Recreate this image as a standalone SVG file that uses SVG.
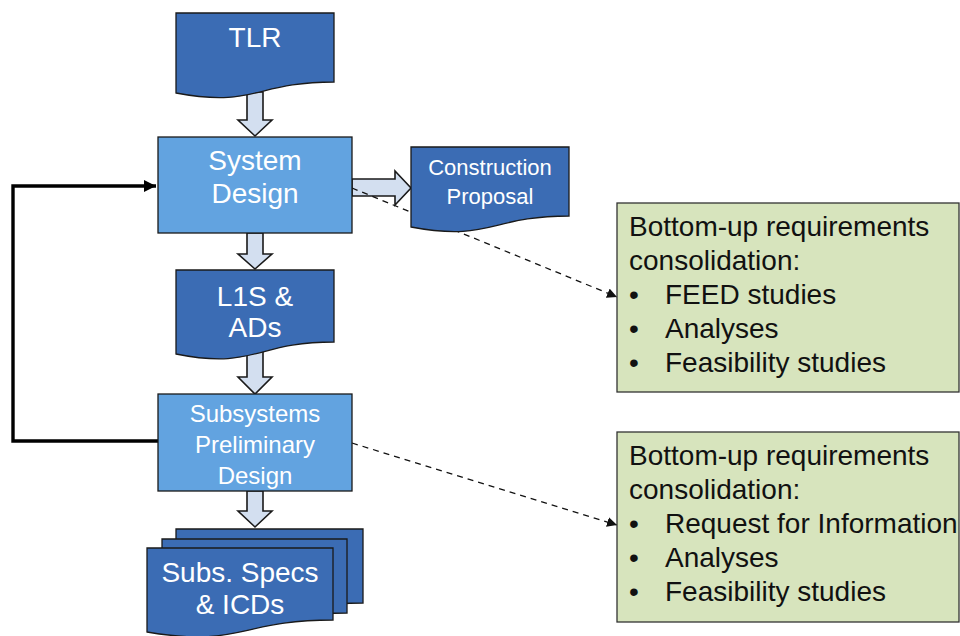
<svg xmlns="http://www.w3.org/2000/svg" width="960" height="636" viewBox="0 0 960 636">
  <style>
    .doc { fill: #3b6cb4; stroke: #1a1a1a; stroke-width: 1.3; }
    .proc { fill: #62a3e0; stroke: #1a1a1a; stroke-width: 1.3; }
    .note { fill: #d7e4bd; stroke: #333333; stroke-width: 1.3; }
    .blk { fill: #d3dff0; stroke: #1a1a1a; stroke-width: 1.6; stroke-linejoin: miter; }
    .wt { font-family: "Liberation Sans", Arial, sans-serif; fill: #ffffff; text-anchor: middle; }
    .bt { font-family: "Liberation Sans", Arial, sans-serif; fill: #111111; font-size: 28px; }
    .dash { fill: none; stroke: #111111; stroke-width: 1.3; stroke-dasharray: 6 5; }
    .loop { fill: none; stroke: #000000; stroke-width: 3.4; }
  </style>
  <defs>
    <marker id="tri" viewBox="0 0 10 10" refX="10" refY="5" markerWidth="10" markerHeight="10" markerUnits="userSpaceOnUse" orient="auto">
      <path d="M0,0 L10,5 L0,10 Z" fill="#111111"/>
    </marker>
    <marker id="triBig" viewBox="0 0 10 10" refX="10" refY="5" markerWidth="12" markerHeight="12" markerUnits="userSpaceOnUse" orient="auto">
      <path d="M0,0 L10,5 L0,10 Z" fill="#000000"/>
    </marker>
  </defs>

  <rect width="960" height="636" fill="#ffffff"/>

  <!-- connectors -->
  <g id="connectors">
    <!-- block arrows between steps -->
    <path class="blk" d="M247,92 H263 V120 H272 L255,136 L238,120 H247 Z"/>
    <path class="blk" d="M247,233 H263 V254 H272 L255,269 L238,254 H247 Z"/>
    <path class="blk" d="M247,345 H263 V377 H272 L255,394 L238,377 H247 Z"/>
    <path class="blk" d="M247,491 H263 V511 H272 L255,527 L238,511 H247 Z"/>
    <path class="blk" d="M352,179 H395 V171 L411,188 L395,205 V196 H352 Z"/>
    <!-- feedback loop -->
    <path class="loop" d="M158,441 H13 V186 H156" marker-end="url(#triBig)"/>
    <!-- dashed links to consolidation notes -->
    <path class="dash" d="M352,188 L617,297" marker-end="url(#tri)"/>
    <path class="dash" d="M352,443 L617,525" marker-end="url(#tri)"/>
  </g>

  <g id="tlr">
    <path class="doc" d="M176,13 H334 V82 C255,82 255,108 176,93 Z"/>
    <text class="wt" x="255" y="47" font-size="28">TLR</text>
  </g>

  <g id="system-design">
    <rect class="proc" x="158" y="137" width="194" height="96"/>
    <text class="wt" x="255" y="170" font-size="28">System</text>
    <text class="wt" x="255" y="203" font-size="28">Design</text>
  </g>

  <g id="construction-proposal">
    <path class="doc" d="M411,147 H569 V216 C490,216 490,242 411,227 Z"/>
    <text class="wt" x="490" y="175" font-size="22">Construction</text>
    <text class="wt" x="490" y="204" font-size="22">Proposal</text>
  </g>

  <g id="l1s-ads">
    <path class="doc" d="M176,270 H334 V342 C255,342 255,370 176,354 Z"/>
    <text class="wt" x="255" y="306" font-size="28">L1S &amp;</text>
    <text class="wt" x="255" y="337" font-size="28">ADs</text>
  </g>

  <g id="subsystems-preliminary-design">
    <rect class="proc" x="158" y="394" width="194" height="97"/>
    <text class="wt" x="255" y="422" font-size="24">Subsystems</text>
    <text class="wt" x="255" y="453" font-size="24">Preliminary</text>
    <text class="wt" x="255" y="484" font-size="24">Design</text>
  </g>

  <g id="subs-specs-icds">
    <path class="doc" d="M176,529 H363 V603 C270,603 270,631 176,615 Z"/>
    <path class="doc" d="M162,539 H347 V613 C255,613 255,641 162,625 Z"/>
    <path class="doc" d="M147,548 H333 V620 C240,620 240,648 147,632 Z"/>
    <text class="wt" x="240" y="582" font-size="28">Subs. Specs</text>
    <text class="wt" x="240" y="614" font-size="28">&amp; ICDs</text>
  </g>

  <g id="consolidation-feed">
    <rect class="note" x="617" y="203" width="342" height="189"/>
    <text class="bt" x="629" y="236">Bottom-up requirements</text>
    <text class="bt" x="629" y="270">consolidation:</text>
    <text class="bt" x="629" y="304">•</text>
    <text class="bt" x="665" y="304">FEED studies</text>
    <text class="bt" x="629" y="338">•</text>
    <text class="bt" x="665" y="338">Analyses</text>
    <text class="bt" x="629" y="372">•</text>
    <text class="bt" x="665" y="372">Feasibility studies</text>
  </g>

  <g id="consolidation-rfi">
    <rect class="note" x="617" y="432" width="342" height="190"/>
    <text class="bt" x="629" y="465">Bottom-up requirements</text>
    <text class="bt" x="629" y="499">consolidation:</text>
    <text class="bt" x="629" y="533">•</text>
    <text class="bt" x="665" y="533">Request for Information</text>
    <text class="bt" x="629" y="567">•</text>
    <text class="bt" x="665" y="567">Analyses</text>
    <text class="bt" x="629" y="601">•</text>
    <text class="bt" x="665" y="601">Feasibility studies</text>
  </g>
</svg>
